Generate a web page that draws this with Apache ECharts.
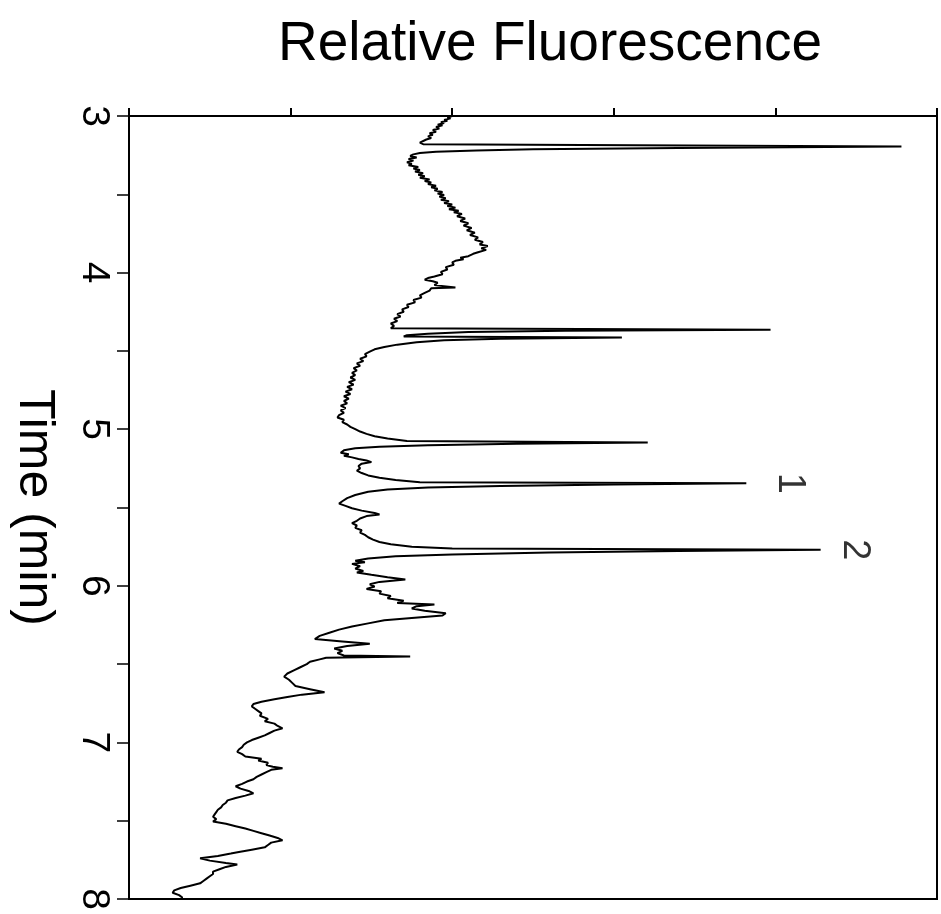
<!DOCTYPE html>
<html>
<head>
<meta charset="utf-8">
<script src="https://cdn.jsdelivr.net/npm/echarts@6/dist/echarts.min.js"></script>
<style>
html,body{margin:0;padding:0;background:#fff;}
#chart{width:941px;height:914px;}
</style>
</head>
<body>
<div id="chart"></div>
<script>
// Trace: [time (min), relative fluorescence]
const trace = [
[3.000,2.00],[3.010,1.97],[3.015,1.99],[3.025,1.95],[3.030,1.97],[3.040,1.93],[3.045,1.95],[3.055,1.91],
[3.060,1.94],[3.070,1.90],[3.080,1.92],[3.090,1.88],[3.100,1.90],[3.110,1.86],[3.120,1.88],[3.130,1.85],
[3.140,1.87],[3.150,1.84],[3.160,1.85],[3.170,1.80],[3.180,1.82],[3.190,1.81],[3.195,4.78],[3.205,3.40],
[3.212,2.50],[3.220,2.15],[3.228,1.90],[3.236,1.80],[3.245,1.76],[3.255,1.74],[3.265,1.78],[3.275,1.73],
[3.285,1.76],[3.295,1.72],[3.305,1.75],[3.315,1.73],[3.325,1.79],[3.335,1.76],[3.345,1.80],[3.355,1.77],
[3.365,1.82],[3.375,1.79],[3.385,1.83],[3.395,1.80],[3.405,1.86],[3.415,1.83],[3.425,1.87],[3.435,1.85],
[3.445,1.90],[3.455,1.87],[3.465,1.91],[3.475,1.89],[3.485,1.94],[3.495,1.91],[3.505,1.95],[3.515,1.92],
[3.525,1.96],[3.535,1.93],[3.545,1.98],[3.555,1.95],[3.565,2.00],[3.575,1.97],[3.585,2.02],[3.595,1.98],
[3.605,2.04],[3.615,2.01],[3.625,2.06],[3.640,2.03],[3.655,2.08],[3.670,2.05],[3.685,2.10],[3.700,2.07],
[3.715,2.12],[3.730,2.09],[3.745,2.14],[3.760,2.11],[3.775,2.16],[3.790,2.14],[3.805,2.19],[3.820,2.17],
[3.830,2.22],[3.845,2.18],[3.855,2.21],[3.870,2.16],[3.880,2.13],[3.895,2.10],[3.905,2.05],[3.915,2.07],
[3.925,2.02],[3.935,2.00],[3.950,2.01],[3.965,1.96],[3.980,1.97],[3.995,1.93],[4.010,1.94],[4.025,1.89],
[4.035,1.85],[4.045,1.83],[4.055,1.88],[4.065,1.91],[4.080,1.89],[4.095,2.02],[4.100,1.87],[4.115,1.86],
[4.130,1.83],[4.145,1.80],[4.160,1.81],[4.175,1.76],[4.190,1.77],[4.205,1.72],[4.220,1.73],[4.235,1.69],
[4.250,1.70],[4.265,1.66],[4.280,1.68],[4.295,1.64],[4.310,1.66],[4.325,1.62],[4.340,1.64],[4.355,1.62],
[4.365,3.97],[4.372,2.70],[4.380,2.10],[4.390,1.85],[4.400,1.72],[4.408,1.70],[4.415,3.05],[4.423,2.30],
[4.432,1.95],[4.445,1.78],[4.460,1.66],[4.475,1.58],[4.490,1.52],[4.505,1.49],[4.520,1.46],[4.535,1.47],
[4.550,1.43],[4.565,1.45],[4.580,1.41],[4.595,1.43],[4.610,1.39],[4.625,1.41],[4.640,1.38],[4.655,1.40],
[4.670,1.37],[4.685,1.40],[4.700,1.36],[4.715,1.39],[4.730,1.35],[4.745,1.38],[4.760,1.34],[4.775,1.37],
[4.790,1.33],[4.805,1.36],[4.820,1.33],[4.835,1.35],[4.850,1.31],[4.865,1.34],[4.880,1.31],[4.895,1.33],
[4.910,1.30],[4.925,1.29],[4.940,1.33],[4.955,1.32],[4.970,1.35],[4.985,1.37],[5.000,1.40],[5.015,1.43],
[5.030,1.47],[5.045,1.52],[5.060,1.60],[5.075,1.72],[5.085,3.21],[5.093,2.40],[5.102,1.85],[5.112,1.55],
[5.122,1.40],[5.135,1.33],[5.150,1.31],[5.160,1.36],[5.170,1.33],[5.180,1.38],[5.190,1.42],[5.200,1.47],
[5.210,1.50],[5.220,1.44],[5.235,1.42],[5.250,1.43],[5.265,1.41],[5.280,1.44],[5.295,1.48],[5.310,1.55],
[5.325,1.65],[5.338,1.80],[5.345,3.82],[5.353,3.00],[5.362,2.30],[5.372,1.85],[5.385,1.60],[5.400,1.48],
[5.420,1.40],[5.440,1.35],[5.460,1.32],[5.475,1.30],[5.490,1.34],[5.505,1.38],[5.520,1.44],[5.535,1.52],
[5.545,1.55],[5.555,1.47],[5.570,1.43],[5.585,1.41],[5.600,1.38],[5.615,1.41],[5.630,1.40],[5.645,1.44],
[5.660,1.43],[5.675,1.46],[5.690,1.48],[5.705,1.51],[5.720,1.55],[5.735,1.62],[5.750,1.75],[5.762,2.00],
[5.770,4.28],[5.778,3.40],[5.788,2.60],[5.800,2.00],[5.812,1.65],[5.825,1.48],[5.840,1.40],[5.850,1.46],
[5.860,1.38],[5.875,1.43],[5.890,1.40],[5.905,1.45],[5.915,1.41],[5.930,1.50],[5.945,1.60],[5.960,1.71],
[5.975,1.55],[5.990,1.49],[6.005,1.52],[6.020,1.47],[6.035,1.56],[6.050,1.55],[6.065,1.62],[6.080,1.60],
[6.095,1.70],[6.110,1.66],[6.120,1.89],[6.130,1.78],[6.145,1.75],[6.160,1.83],[6.175,1.96],[6.190,1.94],
[6.205,1.75],[6.220,1.58],[6.240,1.48],[6.260,1.38],[6.280,1.30],[6.300,1.24],[6.320,1.18],[6.340,1.15],
[6.355,1.32],[6.370,1.49],[6.385,1.35],[6.400,1.27],[6.415,1.32],[6.430,1.29],[6.445,1.33],[6.452,1.74],
[6.460,1.22],[6.470,1.18],[6.485,1.12],[6.500,1.10],[6.520,1.06],[6.540,1.02],[6.560,0.98],[6.580,0.96],
[6.600,0.99],[6.620,1.01],[6.640,1.03],[6.660,1.12],[6.680,1.21],[6.695,1.07],[6.710,0.98],[6.725,0.90],
[6.740,0.82],[6.755,0.77],[6.770,0.76],[6.785,0.78],[6.800,0.80],[6.815,0.82],[6.830,0.81],[6.850,0.86],
[6.865,0.84],[6.880,0.90],[6.895,0.92],[6.910,0.95],[6.925,0.90],[6.940,0.87],[6.955,0.84],[6.970,0.80],
[6.985,0.76],[7.000,0.73],[7.015,0.71],[7.030,0.70],[7.045,0.68],[7.060,0.67],[7.075,0.70],[7.090,0.72],
[7.105,0.82],[7.115,0.80],[7.130,0.86],[7.145,0.85],[7.155,0.89],[7.165,0.95],[7.175,0.88],[7.190,0.85],
[7.205,0.82],[7.220,0.79],[7.235,0.77],[7.250,0.73],[7.265,0.70],[7.280,0.66],[7.295,0.69],[7.310,0.74],
[7.325,0.77],[7.340,0.72],[7.355,0.66],[7.370,0.61],[7.385,0.60],[7.400,0.58],[7.415,0.57],[7.430,0.55],
[7.445,0.54],[7.460,0.53],[7.475,0.52],[7.490,0.54],[7.505,0.52],[7.520,0.60],[7.535,0.66],[7.550,0.72],
[7.565,0.77],[7.580,0.82],[7.595,0.87],[7.610,0.92],[7.625,0.95],[7.640,0.88],[7.655,0.86],[7.670,0.84],
[7.685,0.76],[7.700,0.68],[7.710,0.63],[7.725,0.55],[7.740,0.44],[7.755,0.50],[7.770,0.60],[7.780,0.67],
[7.795,0.60],[7.810,0.56],[7.825,0.52],[7.840,0.52],[7.855,0.50],[7.870,0.48],[7.885,0.46],[7.900,0.44],
[7.915,0.38],[7.930,0.32],[7.945,0.28],[7.960,0.27],[7.975,0.31],[7.990,0.33],[8.000,0.32]
];

// Peak annotations
const peakLabels = ['1', '2'];
const peakLabelTime = [5.345, 5.770];
const peakLabelPos = [4.09, 4.49];

// Axes
const timeMin = 3, timeMax = 8, timeStep = 0.5;
const fluorMin = 0, fluorMax = 5, fluorStep = 1;
const titleText = 'Relative Fluorescence';
const yAxisName = 'Time (min)';

const chart = echarts.init(document.getElementById('chart'), null, {renderer: 'canvas'});
const FONT = 'Liberation Sans, Arial, Helvetica, sans-serif';

chart.setOption({
  animation: false,
  backgroundColor: '#ffffff',
  title: {
    text: titleText,
    left: 545,
    textAlign: 'center',
    top: 12,
    textStyle: {fontFamily: FONT, fontSize: 55, fontWeight: 'normal', color: '#000'}
  },
  grid: {
    left: 129, right: 4, top: 116, bottom: 15,
    outerBoundsMode: 'none', containLabel: false,
    show: true, borderColor: '#000', borderWidth: 2, backgroundColor: 'transparent'
  },
  xAxis: {
    type: 'value', position: 'top',
    min: fluorMin, max: fluorMax, interval: fluorStep,
    axisLine: {show: true, lineStyle: {color: '#000', width: 2}},
    axisTick: {show: true, inside: false, length: 8, lineStyle: {color: '#000', width: 2}},
    axisLabel: {show: false},
    splitLine: {show: false}
  },
  yAxis: {
    type: 'value', inverse: true,
    min: timeMin, max: timeMax, interval: timeStep,
    name: yAxisName, nameLocation: 'middle', nameRotate: -90, nameGap: 70,
    nameTextStyle: {fontFamily: FONT, fontSize: 50, color: '#000'},
    axisLine: {show: true, lineStyle: {color: '#000', width: 2}},
    axisTick: {show: true, inside: false, length: 12, lineStyle: {color: '#000', width: 1.5}},
    axisLabel: {
      show: true, rotate: -90, margin: 16,
      fontFamily: FONT, fontSize: 39, color: '#000',
      formatter: function (v) { return Math.abs(v - Math.round(v)) < 1e-9 ? String(Math.round(v)) : ''; }
    },
    splitLine: {show: false}
  },
  series: [
    {
      type: 'line',
      data: trace.map(p => [p[1], p[0]]),
      showSymbol: false, symbol: 'none',
      lineStyle: {color: '#000', width: 2},
      silent: true
    },
    {
      type: 'scatter',
      data: peakLabels.map((s, i) => [peakLabelPos[i], peakLabelTime[i], s]),
      symbolSize: 0,
      label: {
        show: true, position: 'inside', rotate: -90,
        formatter: p => p.value[2],
        fontFamily: FONT, fontSize: 38, color: '#000'
      },
      silent: true
    }
  ]
});
</script>
</body>
</html>
